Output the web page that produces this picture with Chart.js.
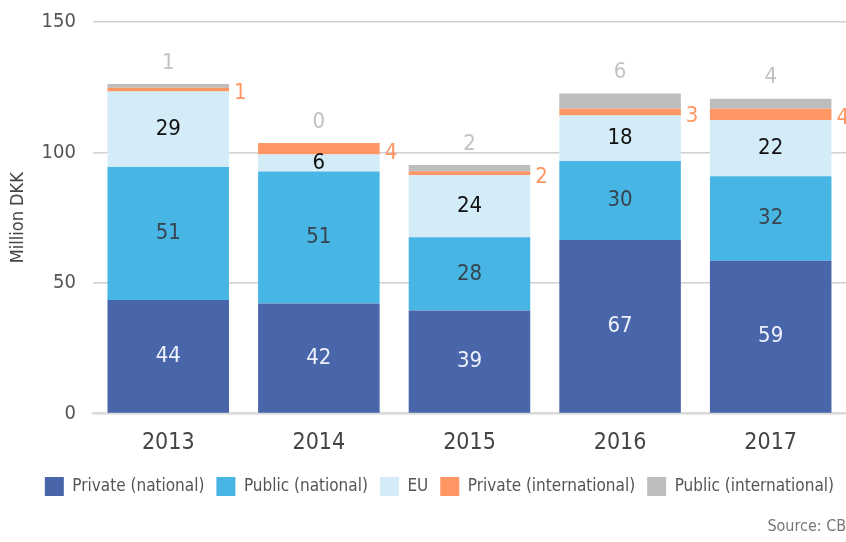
<!DOCTYPE html>
<html>
<head>
<meta charset="utf-8">
<script src="https://cdn.jsdelivr.net/npm/chart.js@4/dist/chart.umd.min.js"></script>
<style>
  html, body { margin: 0; padding: 0; background: #fff; }
  #wrap { width: 846px; height: 542px; }
</style>
</head>
<body>
<div id="wrap"><canvas id="chart"></canvas></div>
<script>
const years = ['2013', '2014', '2015', '2016', '2017']
const privateNational = [43.5, 42.1, 39.4, 66.5, 58.5]
const publicNational = [50.9, 50.6, 28.1, 30.2, 32.4]
const eu = [29.0, 6.49, 23.8, 17.5, 21.5]
const privateInternational = [1.4, 4.4, 1.5, 2.6, 4.4]
const publicInternational = [1.4, 0, 2.4, 5.8, 3.8]
const yTicks = [0, 50, 100, 150]

const FONT = '"DejaVu Sans Condensed", "Liberation Sans Narrow", sans-serif'
const colors = ['#4a66ab', '#47b6e4', '#d3ecf8', '#ff9663', '#bdbdbd']
const labelColors = ['#eef2fa', '#37444f', '#111111', '#ff9663', '#c2c2c2']

// draws the value labels, like the datalabels plugin would
const valueLabels = {
  id: 'valueLabels',
  afterDatasetsDraw (chart) {
    const ctx = chart.ctx
    ctx.save()
    ctx.font = '22px ' + FONT
    chart.data.datasets.forEach((dataset, i) => {
      const meta = chart.getDatasetMeta(i)
      meta.data.forEach((bar, j) => {
        const text = String(Math.round(dataset.data[j]))
        ctx.fillStyle = labelColors[i]
        ctx.textBaseline = 'middle'
        if (i < 3) {
          ctx.textAlign = 'center'
          ctx.fillText(text, bar.x, (bar.y + bar.base) / 2)
        } else if (i === 3) {
          ctx.textAlign = 'left'
          ctx.fillText(text, bar.x + bar.width / 2 + 5, (bar.y + bar.base) / 2 + 4)
        } else {
          ctx.textAlign = 'center'
          ctx.fillText(text, bar.x, bar.y - 21)
        }
      })
    })
    ctx.restore()
  }
}

const sourceNote = {
  id: 'sourceNote',
  afterDraw (chart) {
    const ctx = chart.ctx
    ctx.save()
    ctx.font = '16px ' + FONT
    ctx.fillStyle = '#777'
    ctx.textAlign = 'right'
    ctx.textBaseline = 'middle'
    ctx.fillText('Source: CBS', chart.width + 9, 527)
    ctx.restore()
  }
}

const names = ['Private (national)', 'Public (national)', 'EU', 'Private (international)', 'Public (international)']
const series = [privateNational, publicNational, eu, privateInternational, publicInternational]

const config = {
  type: 'bar',
  data: {
    labels: years,
    datasets: series.map((data, i) => {
      return {
        label: names[i],
        data,
        backgroundColor: colors[i],
        barPercentage: 0.807,
        categoryPercentage: 1
      }
    })
  },
  options: {
    responsive: true,
    maintainAspectRatio: false,
    animation: false,
    layout: { padding: { top: 22, right: 0, bottom: 36, left: 5 } },
    plugins: {
      tooltip: { enabled: false },
      legend: {
        position: 'bottom',
        align: 'end',
        labels: {
          boxWidth: 19,
          boxHeight: 19,
          padding: 12,
          color: '#555',
          font: { family: FONT, size: 17 }
        }
      }
    },
    scales: {
      x: {
        stacked: true,
        grid: { display: false },
        border: { color: '#dadada', width: 2 },
        ticks: { color: '#444', padding: 8, font: { family: FONT, size: 23 } }
      },
      y: {
        stacked: true,
        min: 0,
        max: 150,
        afterBuildTicks: (axis) => { axis.ticks = yTicks.map((v) => ({ value: v })) },
        afterFit: (axis) => { axis.paddingTop = 0; axis.paddingBottom = 0 },
        grid: { color: '#d0d0d0', lineWidth: 1.5, drawTicks: false },
        border: { display: false },
        ticks: { color: '#555', padding: 17, font: { family: FONT, size: 20 } },
        title: { display: true, text: 'Million DKK', color: '#444', font: { family: FONT, size: 18 }, padding: { top: 3, bottom: -5 } }
      }
    }
  },
  plugins: [valueLabels, sourceNote]
}

new Chart(document.getElementById('chart').getContext('2d'), config)
</script>
</body>
</html>
